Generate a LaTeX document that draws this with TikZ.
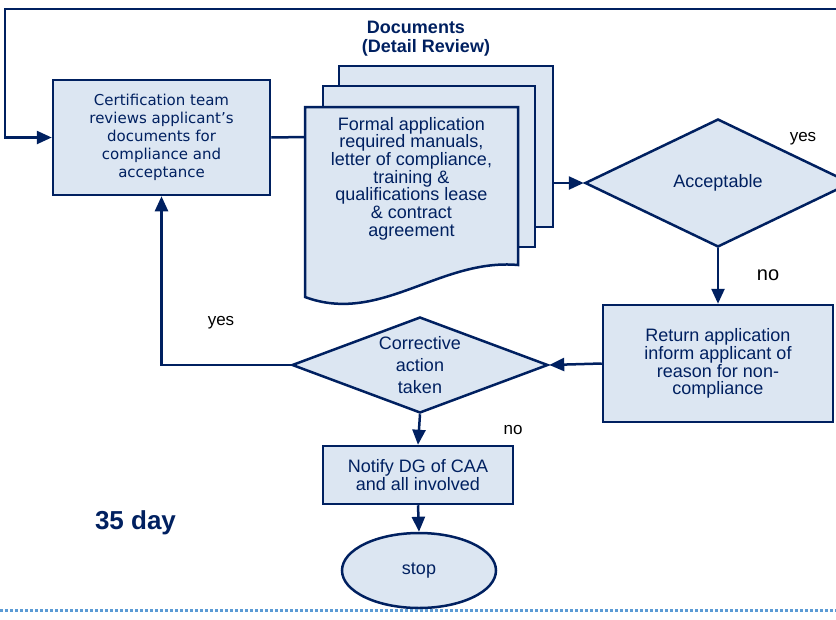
\documentclass[tikz,border=0pt]{standalone}
\usepackage{fontspec}
\setmainfont{Liberation Sans}
\newfontfamily\verdanafont{DejaVu Sans}
\usetikzlibrary{shapes.geometric,arrows.meta}
\definecolor{navy}{RGB}{0,32,96}
\definecolor{boxfill}{RGB}{220,230,242}
\definecolor{dotblue}{RGB}{91,155,213}

\begin{document}
\begin{tikzpicture}[x=1pt,y=-1pt,
        box/.style={draw=navy, fill=boxfill, line width=2.5pt, text=navy, align=center, inner sep=0pt},
        decision/.style={box, diamond},
        conn/.style={draw=navy, line width=2.5pt, -{Triangle[length=15pt,width=13pt]}},
        txt/.style={font=\fontsize{18}{17.7}\selectfont},
        lbl/.style={font=\fontsize{17}{20}\selectfont}]
            \useasboundingbox (0,0) rectangle (836,619);
            % boite de depart
            \node[box, minimum width=217pt, minimum height=115pt, font=\verdanafont\fontsize{15}{18}\selectfont] (review) at (161.5,137.5)
                {Certification team\\reviews applicant’s\\documents for\\compliance and\\acceptance};
            % pile de documents
            \node[text=navy, font=\bfseries\fontsize{18}{20}\selectfont] (docTitle) at (416,27) {Documents};
            \node[text=navy, font=\bfseries\fontsize{18}{20}\selectfont] (docSub) at (426,48) {(Detail Review)};
            \node[box, minimum width=214pt, minimum height=161pt] (pageBack) at (446,146.5) {};
            \node[box, minimum width=212pt, minimum height=161pt] (pageMid) at (429,166.5) {};
            \coordinate (docsW) at (305,137);
            \coordinate (docsE) at (553,183);
            \draw[navy, line width=2.5pt] (review.east) -- (docsW);
            \draw[draw=navy, fill=boxfill, line width=2.5pt] (305,107) -- (518,107) -- (518,265)
                .. controls (440,258) and (380,325) .. (305,297) -- cycle;
            \node[text=navy, align=center, txt] (docs) at (411.5,178.5)
                {Formal application\\required manuals,\\letter of compliance,\\training \&\\qualifications lease\\\& contract\\agreement};
            % decisions
            \node[decision, aspect=2, minimum width=266pt, minimum height=128pt, txt] (accept) at (718,183) {Acceptable};
            \node[box, minimum width=230pt, minimum height=117pt, txt] (ret) at (718,363.5)
                {Return application\\inform applicant of\\reason for non-\\compliance};
            \node[decision, aspect=2.67, minimum width=256pt, minimum height=96pt, font=\fontsize{18}{22}\selectfont] (corr) at (420,365)
                {Corrective\\action\\taken};
            \node[box, minimum width=190pt, minimum height=58pt, txt] (notify) at (418,475) {Notify DG of CAA\\and all involved};
            \node[box, ellipse, minimum width=154pt, minimum height=75pt, txt] (stop) at (419,570.5) {stop};
            % fleches
            \coordinate (loopTL) at (5,9);
            \draw[conn] (docsE) -- (accept.west);
            \draw[conn] (accept.east) |- (loopTL) |- (review.west); % boucle du haut
            \draw[conn] (accept.south) -- (ret.north);
            \draw[conn] (ret.west) -- (corr.east);
            \draw[conn] (corr.west) -| (review.south);
            \draw[conn] (corr.south) -- (notify.north);
            \draw[conn] (notify.south) -- (stop.north);
            % etiquettes
            \node[lbl] (yesTop) at (803,139) {yes};
            \node[font=\fontsize{20}{22}\selectfont] (noRight) at (768,275) {no};
            \node[lbl] (yesLeft) at (221,323) {yes};
            \node[lbl] (noBottom) at (513,430) {no};
            \node[text=navy, font=\bfseries\fontsize{26}{28}\selectfont] (days) at (135.5,523) {35 day};
            \draw[dotblue, line width=3pt, dash pattern=on 3pt off 2pt] (0,610) -- (836,610);
        \end{tikzpicture}
\end{document}
